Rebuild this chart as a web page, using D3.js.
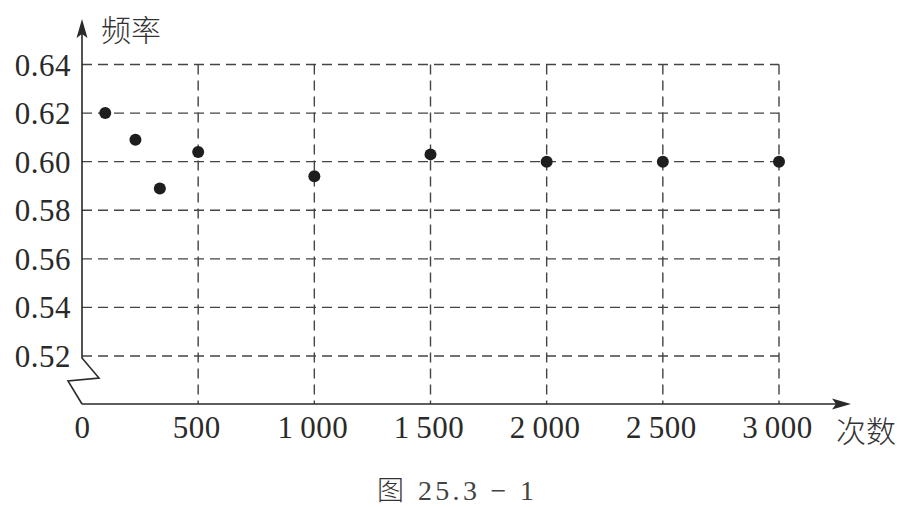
<!DOCTYPE html>
<html>
<head>
<meta charset="utf-8">
<script src="https://cdn.jsdelivr.net/npm/d3@7"></script>
<style>
  body { margin: 0; background: #fff; }
  svg { display: block; }
  .tick-label { font-family: "Liberation Serif", "DejaVu Serif", serif; font-size: 31px; fill: #2a2a2a; letter-spacing: 0.5px; }
  .cjk { font-family: "Noto Sans CJK SC", sans-serif; font-weight: 300; fill: #333; }
</style>
</head>
<body>
<div id="chart"></div>
<script>
// data
var times = [100, 230, 335, 500, 1000, 1500, 2000, 2500, 3000];
var freqs = [0.620, 0.609, 0.589, 0.604, 0.594, 0.603, 0.600, 0.600, 0.600];

var xTicks = [0, 500, 1000, 1500, 2000, 2500, 3000];
var xTickLabels = ["0", "500", "1\u2009000", "1\u2009500", "2\u2009000", "2\u2009500", "3\u2009000"];
var yTicks = [0.52, 0.54, 0.56, 0.58, 0.60, 0.62, 0.64];
var yTickLabels = ["0.52", "0.54", "0.56", "0.58", "0.60", "0.62", "0.64"];

var svgWidth = 908;
var svgHeight = 507;

var ink = "#2a2a2a";

var svg = d3.select("#chart")
  .append("svg")
  .attr("width", svgWidth)
  .attr("height", svgHeight);

var x = d3.scaleLinear().domain([0, 3000]).range([82, 779]);
var y = d3.scaleLinear().domain([0.52, 0.64]).range([356, 64.5]);
var axisY = 404;

// dashed grid
svg.append("g")
  .selectAll("line")
  .data(yTicks)
  .enter()
  .append("line")
  .attr("x1", x(0))
  .attr("x2", x(3000))
  .attr("y1", d => y(d))
  .attr("y2", d => y(d))
  .attr("stroke", "#444")
  .attr("stroke-width", 1.4)
  .attr("stroke-dasharray", "10,6");

svg.append("g")
  .selectAll("line")
  .data(xTicks.slice(1))
  .enter()
  .append("line")
  .attr("x1", d => x(d))
  .attr("x2", d => x(d))
  .attr("y1", y(0.64))
  .attr("y2", axisY)
  .attr("stroke", "#444")
  .attr("stroke-width", 1.4)
  .attr("stroke-dasharray", "10,6");

// y axis with break
svg.append("path")
  .attr("d", "M" + x(0) + ",30 L" + x(0) + ",358 L99,378 L68,381 L" + x(0) + "," + axisY)
  .attr("fill", "none")
  .attr("stroke", ink)
  .attr("stroke-width", 1.6);

svg.append("path")
  .attr("d", "M" + x(0) + ",19 L" + (x(0) - 5.5) + ",38 L" + x(0) + ",34 L" + (x(0) + 5.5) + ",38 Z")
  .attr("fill", ink);

// x axis
svg.append("line")
  .attr("x1", x(0))
  .attr("x2", 840)
  .attr("y1", axisY)
  .attr("y2", axisY)
  .attr("stroke", ink)
  .attr("stroke-width", 1.6);

svg.append("path")
  .attr("d", "M851," + axisY + " L832," + (axisY - 5.5) + " L836," + axisY + " L832," + (axisY + 5.5) + " Z")
  .attr("fill", ink);

// tick labels through d3 axes
var xAxis = d3.axisBottom(x)
  .tickValues(xTicks)
  .tickSize(0)
  .tickPadding(0)
  .tickFormat((d, i) => xTickLabels[i]);

var gx = svg.append("g")
  .attr("transform", "translate(0," + axisY + ")")
  .call(xAxis);
gx.select(".domain").remove();
gx.selectAll("text")
  .attr("class", "tick-label")
  .attr("dy", null)
  .attr("y", 34)
  .attr("x", (d, i) => i == 0 ? 0 : -2);

var yAxis = d3.axisLeft(y)
  .tickValues(yTicks)
  .tickSize(0)
  .tickPadding(0)
  .tickFormat((d, i) => yTickLabels[i]);

var gy = svg.append("g")
  .attr("transform", "translate(" + x(0) + ",0)")
  .call(yAxis);
gy.select(".domain").remove();
gy.selectAll("text")
  .attr("class", "tick-label")
  .attr("x", -11)
  .attr("dy", "0.34em");

// points
svg.append("g")
  .selectAll("circle")
  .data(times)
  .enter()
  .append("circle")
  .attr("cx", d => x(d))
  .attr("cy", (d, i) => y(freqs[i]))
  .attr("r", 6)
  .attr("fill", "#1e1e1e");

// axis titles
svg.append("text")
  .attr("class", "cjk")
  .attr("x", 101)
  .attr("y", 41)
  .attr("font-size", 30)
  .text("频率");

svg.append("text")
  .attr("class", "cjk")
  .attr("x", 836)
  .attr("y", 442)
  .attr("font-size", 30)
  .text("次数");

// caption
var cap = svg.append("text")
  .attr("x", 377)
  .attr("y", 500)
  .attr("fill", "#444");
cap.append("tspan")
  .attr("class", "cjk")
  .attr("font-size", 27)
  .text("图");
cap.append("tspan")
  .attr("font-family", "Liberation Serif, DejaVu Serif, serif")
  .attr("font-size", 28)
  .attr("letter-spacing", 3.3)
  .attr("dx", 14)
  .text("25.3 \u2212 1");
</script>
</body>
</html>
